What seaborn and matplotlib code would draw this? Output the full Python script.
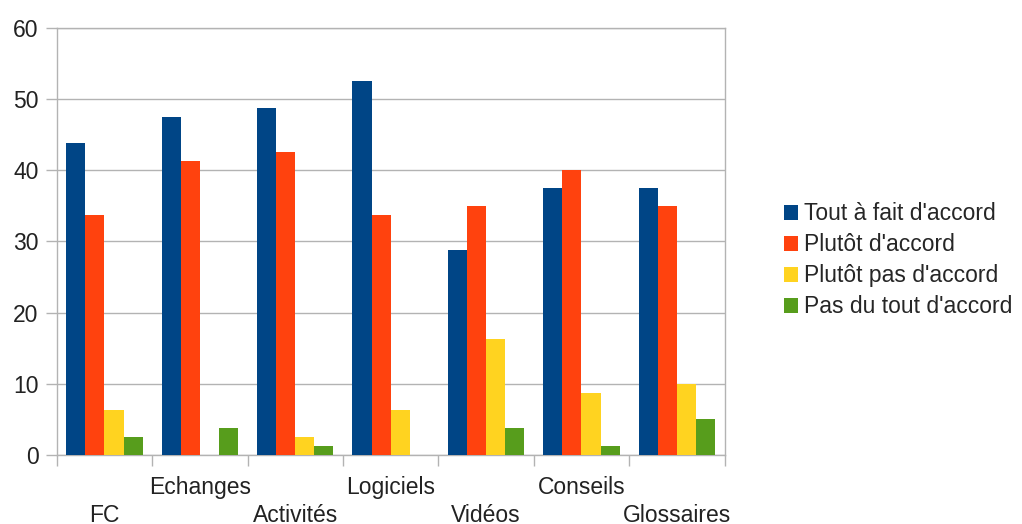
import numpy as np
import pandas as pd
import seaborn as sns
import matplotlib.pyplot as plt

categories = ["FC", "Echanges", "Activités", "Logiciels", "Vidéos", "Conseils", "Glossaires"]
series_names = ["Tout à fait d'accord", "Plutôt d'accord", "Plutôt pas d'accord", "Pas du tout d'accord"]
tout_a_fait = [43.75, 47.5, 48.75, 52.5, 28.75, 37.5, 37.5]
plutot = [33.75, 41.25, 42.5, 33.75, 35.0, 40.0, 35.0]
plutot_pas = [6.25, 0.0, 2.5, 6.25, 16.25, 8.75, 10.0]
pas_du_tout = [2.5, 3.75, 1.25, 0.0, 3.75, 1.25, 5.0]
y_ticks = [0, 10, 20, 30, 40, 50, 60]

colors = ["#004586", "#ff420e", "#ffd320", "#579d1c"]
grid_col = "#b3b3b3"

sns.set_style("white")
plt.rcParams["font.family"] = ["Liberation Sans", "DejaVu Sans"]
plt.rcParams["font.size"] = 16.5

rows = []
for name, vals in zip(series_names, [tout_a_fait, plutot, plutot_pas, pas_du_tout]):
    for cat, v in zip(categories, vals):
        rows.append({"cat": cat, "serie": name, "val": v})
df = pd.DataFrame(rows)

fig = plt.figure(figsize=(10.22, 5.24), dpi=100)
ax = fig.add_axes([0.0555, 0.1317, 0.709 - 0.0555, 0.947 - 0.1317])

sns.barplot(data=df, x="cat", y="val", hue="serie", hue_order=series_names,
            order=categories, palette=colors, width=0.8, gap=0,
            saturation=1, ax=ax, zorder=3, errorbar=None, linewidth=0)

ax.set_xlim(-0.5, 6.5)
ax.set_ylim(0, 60)
ax.set_yticks(y_ticks)
ax.set_xlabel("")
ax.set_ylabel("")
ax.yaxis.grid(True, color=grid_col, linewidth=1, zorder=0)
ax.set_axisbelow(True)
for s in ax.spines.values():
    s.set_color(grid_col)
    s.set_linewidth(1)

ax.set_xticks(range(len(categories)))
ax.set_xticklabels(categories)
ax.set_xticks(np.arange(-0.5, 7, 1), minor=True)
ax.tick_params(axis="x", which="minor", bottom=True, length=8, color=grid_col,
               width=1, direction="out")
ax.tick_params(axis="x", which="major", bottom=True, length=0, labelcolor="#222222")
ax.tick_params(axis="y", left=True, length=8, color=grid_col, width=1, direction="out",
               pad=5, labelcolor="#222222")

handles, labels = ax.get_legend_handles_labels()
ax.legend(handles, labels, loc="center left", bbox_to_anchor=(0.767, 0.503),
          bbox_transform=fig.transFigure, frameon=False, handlelength=0.6,
          handleheight=0.6, handletextpad=0.3, labelspacing=0.35,
          borderpad=0, borderaxespad=0)

for i, tick in enumerate(ax.xaxis.get_major_ticks()):
    tick.set_pad(35 if i % 2 == 0 else 15)

fig.savefig("out.png", dpi=100)
